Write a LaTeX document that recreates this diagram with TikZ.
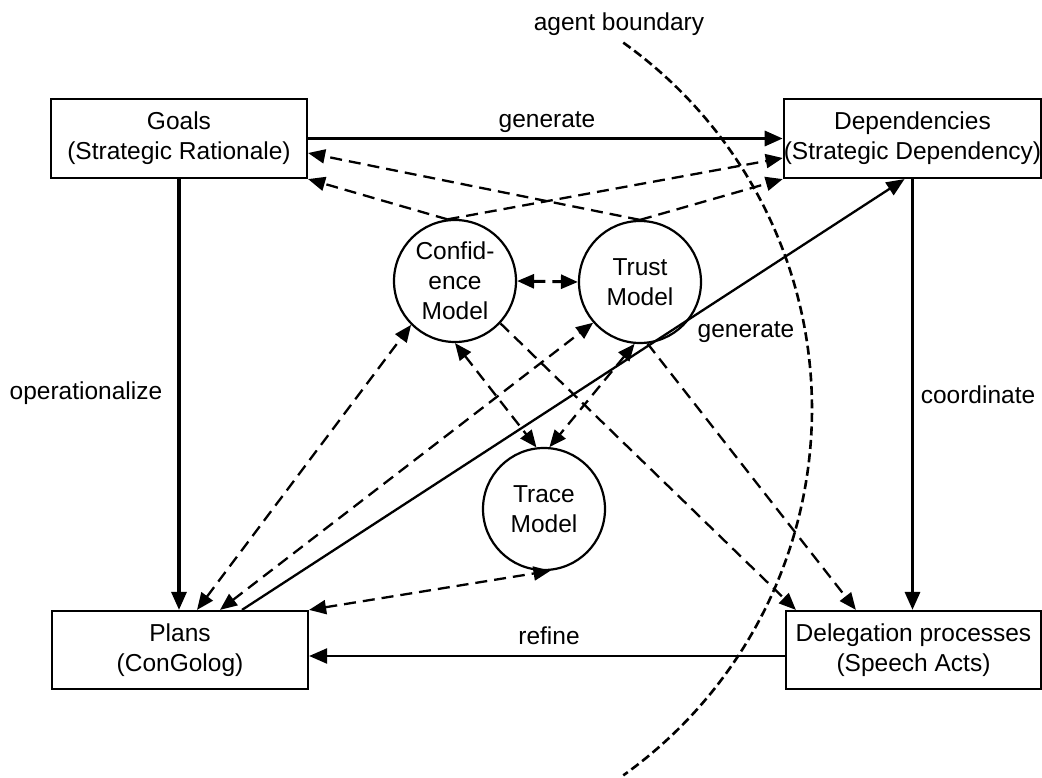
\documentclass[tikz,border=0pt]{standalone}
\usepackage{fontspec}
\setmainfont{Liberation Sans}
\usetikzlibrary{arrows.meta}
\begin{document}
\begin{tikzpicture}[x=1pt,y=1pt,
  every node/.style={font=\fontsize{24.5}{30}\selectfont},
  layer/.style={draw, line width=2.2pt, rectangle, minimum width=256pt,
    minimum height=79pt, inner sep=0pt, align=center},
  model/.style={draw, line width=2.2pt, circle, minimum size=122pt,
    inner sep=0pt, align=center},
  bighead/.style={-{Triangle[length=18pt,width=15pt]}},
  solidarrow/.style={line width=3.2pt, bighead},
  thinarrow/.style={line width=2.3pt, bighead},
  dasharrow/.style={line width=2.3pt, dash pattern=on 12pt off 7pt,
    -{Triangle[length=17pt,width=14pt]}},
  dashboth/.style={dasharrow,
    {Triangle[length=17pt,width=14pt]}-{Triangle[length=17pt,width=14pt]}},
  boundary/.style={line width=2.6pt, dash pattern=on 9pt off 4.5pt}
]
\useasboundingbox (0,0) rectangle (1042,-778);

% agent boundary
\coordinate (bc) at (362,-409);
\draw[boundary] (bc) ++(54.5:450pt) arc[start angle=54.5, end angle=-54.5, radius=450pt];
\node[anchor=base] (lab) at (619,-31) {agent boundary};

% layers
\node[layer] (goals) at (179,-138.5) {Goals\\(Strategic Rationale)};
\node[layer, minimum width=257pt] (deps) at (912.5,-138.5) {Dependencies\\(Strategic Dependency)};
\node[layer, minimum height=78pt] (plans) at (180,-650) {Plans\\(ConGolog)};
\node[layer, minimum width=255pt, minimum height=78pt] (deleg) at (913.5,-650) {Delegation processes\\(Speech Acts)};

% models
\node[model] (conf) at (455,-281) {Confid-\\ence\\Model};
\node[model] (trust) at (640,-282) {Trust\\Model};
\node[model] (trace) at (544,-509) {Trace\\Model};

% main relations
\draw[solidarrow] (goals.east) -- (deps.west);
\draw[solidarrow] (goals.south) -- (goals.south |- plans.north);
\draw[solidarrow] (deps.south) -- (deps.south |- deleg.north);
\draw[thinarrow] ([yshift=-6pt]deleg.west) -- ([yshift=-6pt]deleg.west -| plans.east);
\draw[thinarrow] ([xshift=62pt]plans.north) -- ([xshift=-8pt]deps.south);

\node[anchor=base] (lgen1) at (547,-128) {generate};
\node (lop) at (86,-393) {operationalize};
\node (lco) at (978,-395) {coordinate};
\node (lref) at (549,-636) {refine};
\node[anchor=base] (lgen2) at (746,-337) {generate};

% model influences
\draw[dasharrow] (trust.north) -- ([yshift=-14.5pt]goals.east);
\draw[dasharrow] (conf.97) -- (goals.south east);
\draw[dasharrow] (conf.97) -- ([yshift=-19.5pt]deps.west);
\draw[dasharrow] (trust.north) -- (deps.south west);
\draw[dashboth, line width=3pt] (conf.east) -- (trust.west);
\draw[dashboth] ([xshift=17pt]plans.north) -- (conf.225);
\draw[dashboth] ([xshift=40pt]plans.north) -- (trust.221);
\draw[dashboth] (plans.north east) -- (trace.276);
\draw[dashboth] (conf.south) -- (trace.97);
\draw[dashboth] (trust.265) -- (trace.85);
\draw[dasharrow] (conf.-43) -- ([xshift=11pt]deleg.north west);
\draw[dasharrow] (trust.-83) -- ([xshift=71pt]deleg.north west);
\end{tikzpicture}
\end{document}
